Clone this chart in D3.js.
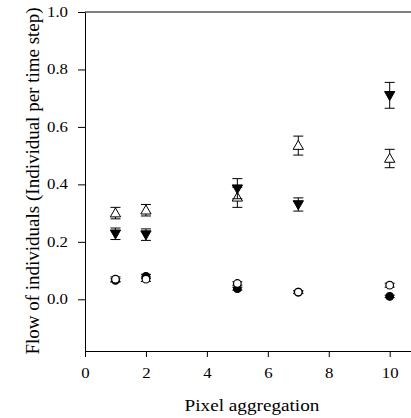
<!DOCTYPE html>
<html>
<head>
<meta charset="utf-8">
<script src="https://cdn.jsdelivr.net/npm/d3@7"></script>
<style>
  body { margin: 0; background: #fff; }
</style>
</head>
<body>
<div id="chart"></div>
<script>
// pixel aggregation levels
const xValues = [1, 2, 5, 7, 10];

// series: mean flow and error
const openTriangle = [0.30, 0.31, 0.355, 0.535, 0.49];
const openTriangleErr = [0.02, 0.02, 0.035, 0.033, 0.032];
const filledTriangle = [0.228, 0.225, 0.385, 0.33, 0.71];
const filledTriangleErr = [0.02, 0.02, 0.035, 0.023, 0.045];
const openCircle = [0.07, 0.07, 0.055, 0.025, 0.049];
const openCircleErr = [0.008, 0.008, 0.006, 0.005, 0.007];
const filledCircle = [0.066, 0.08, 0.037, 0.025, 0.01];
const filledCircleErr = [0.006, 0.007, 0.005, 0.004, 0.004];

const xTicks = [0, 2, 4, 6, 8, 10];
const yTicks = [0.0, 0.2, 0.4, 0.6, 0.8, 1.0];

const serif = "'Liberation Serif', 'Times New Roman', Times, serif";
const width = 411, height = 418;
const margin = { left: 85, top: 12, bottom: 67 };
const stretch = 1.2; // the original figure is a bit wider than tall

const svg = d3.select("#chart").append("svg")
  .attr("width", width)
  .attr("height", height);

const x = d3.scaleLinear().domain([0, 10.8]).range([margin.left, margin.left + 10.8 * 30.47]);
const y = d3.scaleLinear().domain([-0.18, 1.0]).range([height - margin.bottom, margin.top]);

// top border
svg.append("line")
  .attr("x1", x(0)).attr("x2", width)
  .attr("y1", y(1.0)).attr("y2", y(1.0))
  .attr("stroke", "#000").attr("stroke-width", 1);

const xAxis = svg.append("g")
  .attr("transform", `translate(0,${y(-0.18)})`)
  .call(d3.axisBottom(x).tickValues(xTicks).tickFormat(d3.format("d")).tickSize(6).tickSizeOuter(0));

const yAxis = svg.append("g")
  .attr("transform", `translate(${x(0)},0)`)
  .call(d3.axisLeft(y).tickValues(yTicks).tickFormat(d3.format(".1f")).tickSize(7).tickSizeOuter(0));

[xAxis, yAxis].forEach(g => {
  g.attr("font-family", null).attr("font-size", null);
  g.selectAll("text").style("font-family", serif).style("font-size", "14px").attr("fill", "#000");
  g.select(".domain").attr("stroke", "#000");
});
xAxis.selectAll(".tick text")
  .attr("y", 0).attr("dy", 0)
  .attr("transform", `translate(0,27) scale(${stretch},1)`);
yAxis.selectAll(".tick text")
  .attr("x", 0)
  .attr("transform", `translate(-17,0) scale(${stretch},1)`);

svg.append("text")
  .attr("transform", `translate(252,411) scale(${stretch},1)`)
  .attr("text-anchor", "middle")
  .style("font-family", serif).style("font-size", "16px")
  .text("Pixel aggregation");

svg.append("text")
  .attr("transform", `translate(39,181) rotate(-90)`)
  .attr("text-anchor", "middle")
  .style("font-family", serif).style("font-size", "19px")
  .text("Flow of individuals (Individual per time step)");

const series = [
  { vals: filledCircle, err: filledCircleErr, shape: "circle", fill: "#000" },
  { vals: openCircle, err: openCircleErr, shape: "circle", fill: "#fff" },
  { vals: openTriangle, err: openTriangleErr, shape: "up", fill: "#fff" },
  { vals: filledTriangle, err: filledTriangleErr, shape: "down", fill: "#000" }
];

const capW = 5;
series.forEach(s => {
  const g = svg.append("g");
  const pts = xValues.map((xv, i) => ({ x: xv, y: s.vals[i], e: s.err[i] }));
  const eb = g.selectAll("g.eb").data(pts).join("g").attr("class", "eb");
  eb.append("line")
    .attr("x1", d => x(d.x)).attr("x2", d => x(d.x))
    .attr("y1", d => y(d.y - d.e)).attr("y2", d => y(d.y + d.e))
    .attr("stroke", "#000").attr("stroke-width", 1);
  [-1, 1].forEach(sg => {
    eb.append("line")
      .attr("x1", d => x(d.x) - capW).attr("x2", d => x(d.x) + capW)
      .attr("y1", d => y(d.y + sg * d.e)).attr("y2", d => y(d.y + sg * d.e))
      .attr("stroke", "#000").attr("stroke-width", 1);
  });
  if (s.shape === "circle") {
    g.selectAll("circle").data(pts).join("circle")
      .attr("cx", d => x(d.x)).attr("cy", d => y(d.y))
      .attr("r", 3.8)
      .attr("fill", s.fill).attr("stroke", "#000").attr("stroke-width", 1.2);
  } else {
    const sym = d3.symbol().type(d3.symbolTriangle).size(46);
    g.selectAll("path.m").data(pts).join("path").attr("class", "m")
      .attr("d", sym)
      .attr("transform", d => `translate(${x(d.x)},${y(d.y) + (s.shape === "up" ? 0.8 : -0.8)}) rotate(${s.shape === "up" ? 0 : 180})`)
      .attr("fill", s.fill).attr("stroke", "#000").attr("stroke-width", 1);
  }
});
</script>
</body>
</html>
